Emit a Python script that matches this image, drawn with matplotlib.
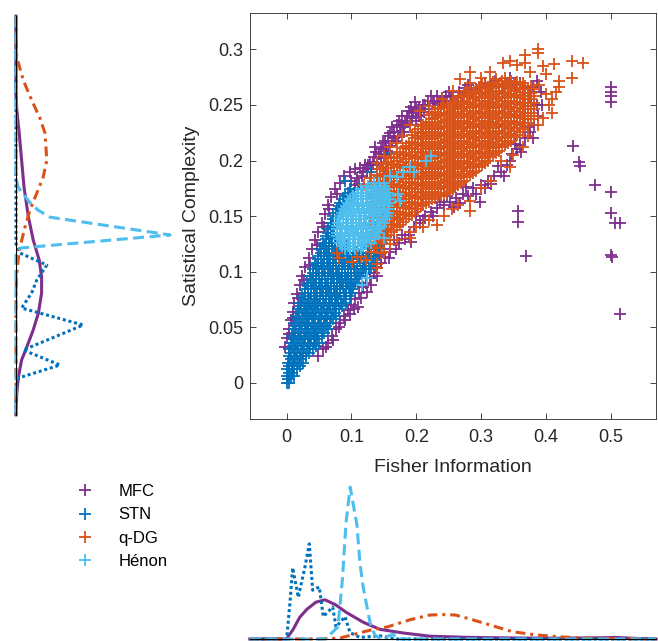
"""
Fisher information vs statistical complexity, with marginal densities.
Writes out.png (658 x 641 px).
"""
import matplotlib
matplotlib.use("Agg")
import matplotlib.pyplot as plt
import numpy as np

plt.rcParams["font.family"] = ["Liberation Sans", "DejaVu Sans"]

OUT_PATH = "out.png"
W_PX, H_PX = 658, 641

SERIES = ["MFC", "STN", "q-DG", "Hénon"]

# ---------------------------------------------------------------------------
# scatter data (Fisher information, statistical complexity)
# ---------------------------------------------------------------------------
# STN rows: (complexity, [fisher ...])
stn_rows = [
    (0.000, [0.000, 0.004]),
    (0.003, [0.002]),
    (0.006, [0.000, 0.006, 0.011]),
    (0.009, [0.003, 0.008]),
    (0.012, [0.001, 0.008, 0.016]),
    (0.015, [0.004, 0.012, 0.020]),
    (0.018, [0.002, 0.010, 0.018, 0.025]),
    (0.021, [0.006, 0.014, 0.022]),
    (0.024, [0.003, 0.011, 0.020, 0.030]),
    (0.027, [0.007, 0.016, 0.025, 0.034]),
    (0.030, [0.004, 0.013, 0.022, 0.031, 0.040]),
    (0.033, [0.009, 0.018, 0.027, 0.036, 0.045]),
    (0.036, [0.006, 0.015, 0.024, 0.033, 0.042, 0.050]),
    (0.039, [0.011, 0.020, 0.029, 0.038, 0.047]),
    (0.042, [0.008, 0.017, 0.026, 0.035, 0.044, 0.054]),
    (0.045, [0.013, 0.022, 0.031, 0.040, 0.049, 0.058]),
    (0.048, [0.010, 0.019, 0.028, 0.037, 0.046, 0.055, 0.063]),
    (0.051, [0.015, 0.024, 0.033, 0.042, 0.051, 0.060]),
    (0.054, [0.012, 0.021, 0.030, 0.039, 0.048, 0.057, 0.067]),
    (0.057, [0.017, 0.026, 0.035, 0.044, 0.053, 0.062, 0.071]),
    (0.060, [0.014, 0.023, 0.032, 0.041, 0.050, 0.059, 0.068, 0.076]),
    (0.063, [0.019, 0.028, 0.037, 0.046, 0.055, 0.064, 0.074]),
    (0.066, [0.017, 0.026, 0.035, 0.044, 0.053, 0.062, 0.071, 0.080]),
    (0.069, [0.022, 0.031, 0.040, 0.049, 0.058, 0.067, 0.076, 0.086]),
    (0.072, [0.020, 0.029, 0.038, 0.047, 0.056, 0.065, 0.074, 0.084, 0.092]),
    (0.075, [0.025, 0.034, 0.043, 0.052, 0.061, 0.070, 0.079, 0.089]),
    (0.078, [0.024, 0.033, 0.042, 0.051, 0.060, 0.069, 0.078, 0.088, 0.097]),
    (0.081, [0.029, 0.038, 0.047, 0.056, 0.065, 0.074, 0.083, 0.092, 0.099]),
    (0.084, [0.028, 0.037, 0.046, 0.055, 0.064, 0.073, 0.082, 0.091, 0.101]),
    (0.087, [0.033, 0.042, 0.051, 0.060, 0.069, 0.078, 0.087, 0.096, 0.103]),
    (0.090, [0.032, 0.041, 0.050, 0.059, 0.068, 0.077, 0.086, 0.095, 0.106]),
    (0.093, [0.037, 0.046, 0.055, 0.064, 0.073, 0.082, 0.091, 0.100, 0.109]),
    (0.096, [0.036, 0.045, 0.054, 0.063, 0.072, 0.081, 0.090, 0.100, 0.112]),
    (0.099, [0.041, 0.050, 0.059, 0.068, 0.077, 0.086, 0.095, 0.105, 0.115, 0.122]),
    (0.102, [0.040, 0.049, 0.058, 0.067, 0.076, 0.085, 0.094, 0.104, 0.117, 0.127]),
    (0.105, [0.045, 0.054, 0.063, 0.072, 0.081, 0.090, 0.099, 0.109, 0.119, 0.130]),
    (0.108, [0.044, 0.053, 0.062, 0.071, 0.080, 0.089, 0.098, 0.108, 0.120, 0.133]),
    (0.111, [0.049, 0.058, 0.067, 0.076, 0.085, 0.094, 0.103, 0.113, 0.123, 0.135]),
    (0.114, [0.048, 0.057, 0.066, 0.075, 0.084, 0.093, 0.102, 0.112, 0.125, 0.138]),
    (0.117, [0.053, 0.062, 0.071, 0.080, 0.089, 0.098, 0.107, 0.117, 0.128, 0.140]),
    (0.120, [0.052, 0.061, 0.070, 0.079, 0.088, 0.097, 0.106, 0.118, 0.130, 0.143]),
    (0.123, [0.057, 0.066, 0.075, 0.084, 0.093, 0.125, 0.138]),
    (0.126, [0.056, 0.065, 0.074, 0.083, 0.120, 0.134, 0.147]),
    (0.129, [0.061, 0.070, 0.079, 0.130, 0.144]),
    (0.132, [0.060, 0.069, 0.078, 0.140, 0.150]),
    (0.135, [0.064, 0.073, 0.082]),
    (0.138, [0.064, 0.072]),
    (0.141, [0.068, 0.077]),
    (0.144, [0.068, 0.076]),
    (0.147, [0.072, 0.081]),
    (0.150, [0.072, 0.080]),
    (0.153, [0.076, 0.085]),
    (0.156, [0.077, 0.086]),
    (0.159, [0.081, 0.090]),
    (0.162, [0.082, 0.092]),
    (0.165, [0.087, 0.096]),
    (0.168, [0.090, 0.100]),
    (0.171, [0.094, 0.104]),
    (0.174, [0.098, 0.110]),
]
stn_extra = [(0.090, 0.182), (0.098, 0.171), (0.130, 0.190), (0.139, 0.198),
             (0.150, 0.186), (0.159, 0.207)]

# Hénon rows: (complexity, [fisher ...])
henon_rows = [
    (0.120, [0.090, 0.098, 0.106, 0.114]),
    (0.123, [0.086, 0.094, 0.102, 0.110, 0.118]),
    (0.126, [0.082, 0.090, 0.098, 0.106, 0.114, 0.122, 0.130]),
    (0.129, [0.080, 0.088, 0.096, 0.104, 0.112, 0.120, 0.128, 0.134]),
    (0.132, [0.078, 0.086, 0.094, 0.102, 0.110, 0.118, 0.126, 0.136]),
    (0.135, [0.077, 0.082, 0.090, 0.098, 0.106, 0.114, 0.122, 0.130, 0.139]),
    (0.138, [0.077, 0.085, 0.093, 0.101, 0.109, 0.117, 0.125, 0.133, 0.142]),
    (0.141, [0.078, 0.083, 0.091, 0.099, 0.107, 0.115, 0.123, 0.131, 0.139, 0.146]),
    (0.144, [0.079, 0.087, 0.095, 0.103, 0.111, 0.119, 0.127, 0.135, 0.143, 0.150]),
    (0.147, [0.081, 0.087, 0.095, 0.103, 0.111, 0.119, 0.127, 0.135, 0.143, 0.152]),
    (0.150, [0.083, 0.091, 0.099, 0.107, 0.115, 0.123, 0.131, 0.139, 0.147, 0.155]),
    (0.153, [0.086, 0.095, 0.103, 0.111, 0.119, 0.127, 0.135, 0.143, 0.151, 0.157]),
    (0.156, [0.088, 0.096, 0.104, 0.112, 0.120, 0.128, 0.136, 0.144, 0.152, 0.158]),
    (0.159, [0.091, 0.100, 0.108, 0.116, 0.124, 0.132, 0.140, 0.148, 0.156]),
    (0.162, [0.094, 0.102, 0.110, 0.118, 0.126, 0.134, 0.142, 0.150, 0.158]),
    (0.165, [0.098, 0.106, 0.114, 0.122, 0.130, 0.138, 0.146, 0.154, 0.160]),
    (0.168, [0.102, 0.110, 0.118, 0.126, 0.134, 0.142, 0.150, 0.158]),
    (0.171, [0.108, 0.116, 0.124, 0.132, 0.140, 0.148, 0.156]),
    (0.174, [0.114, 0.122, 0.130, 0.138, 0.146, 0.154]),
    (0.177, [0.126, 0.134, 0.142, 0.150]),
    (0.180, [0.134, 0.142, 0.150]),
]
henon_extra = [(0.175, 0.164), (0.172, 0.170), (0.190, 0.194), (0.196, 0.190),
               (0.215, 0.200), (0.222, 0.204), (0.160, 0.186), (0.116, 0.088),
               (0.124, 0.094), (0.145, 0.140), (0.150, 0.130), (0.170, 0.185),
               (0.180, 0.190)]

# q-DG columns: (fisher, [complexity ...])
qdg_columns = [
    (0.1300, [0.118, 0.124, 0.130, 0.136, 0.142, 0.148, 0.154, 0.160, 0.166, 0.172, 0.178]),
    (0.1345, [0.121, 0.127, 0.133, 0.139, 0.145, 0.151, 0.157, 0.163, 0.169, 0.175, 0.181]),
    (0.1390, [0.121, 0.127, 0.133, 0.139, 0.145, 0.151, 0.157, 0.163, 0.169, 0.175, 0.181, 0.187]),
    (0.1435, [0.126, 0.132, 0.138, 0.144, 0.150, 0.156, 0.162, 0.168, 0.174, 0.180, 0.186, 0.192]),
    (0.1480, [0.128, 0.134, 0.140, 0.146, 0.152, 0.158, 0.164, 0.170, 0.176, 0.182, 0.188, 0.194]),
    (0.1525, [0.131, 0.137, 0.143, 0.149, 0.155, 0.161, 0.167, 0.173, 0.179, 0.185, 0.191, 0.197]),
    (0.1570, [0.133, 0.139, 0.145, 0.151, 0.157, 0.163, 0.169, 0.175, 0.181, 0.187, 0.193, 0.199]),
    (0.1615, [0.136, 0.142, 0.148, 0.154, 0.160, 0.166, 0.172, 0.178, 0.184, 0.190, 0.196, 0.202]),
    (0.1660, [0.137, 0.143, 0.149, 0.155, 0.161, 0.167, 0.173, 0.179, 0.185, 0.191, 0.197, 0.203]),
    (0.1705, [0.140, 0.146, 0.152, 0.158, 0.164, 0.170, 0.176, 0.182, 0.188, 0.194, 0.200, 0.206]),
    (0.1750, [0.142, 0.148, 0.154, 0.160, 0.166, 0.172, 0.178, 0.184, 0.190, 0.196, 0.202, 0.208]),
    (0.1795, [0.145, 0.151, 0.157, 0.163, 0.169, 0.175, 0.181, 0.187, 0.193, 0.199, 0.205, 0.211]),
    (0.1840, [0.147, 0.153, 0.159, 0.165, 0.171, 0.177, 0.183, 0.189, 0.195, 0.201, 0.207, 0.213]),
    (0.1885, [0.150, 0.156, 0.162, 0.168, 0.174, 0.180, 0.186, 0.192, 0.198, 0.204, 0.210, 0.216]),
    (0.1930, [0.151, 0.157, 0.163, 0.169, 0.175, 0.181, 0.187, 0.193, 0.199, 0.205, 0.211, 0.217, 0.223]),
    (0.1975, [0.154, 0.160, 0.166, 0.172, 0.178, 0.184, 0.190, 0.196, 0.202, 0.208, 0.214, 0.220, 0.226]),
    (0.2020, [0.156, 0.162, 0.168, 0.174, 0.180, 0.186, 0.192, 0.198, 0.204, 0.210, 0.216, 0.222, 0.228]),
    (0.2065, [0.159, 0.165, 0.171, 0.177, 0.183, 0.189, 0.195, 0.201, 0.207, 0.213, 0.219, 0.225, 0.231]),
    (0.2110, [0.160, 0.166, 0.172, 0.178, 0.184, 0.190, 0.196, 0.202, 0.208, 0.214, 0.220, 0.226, 0.232]),
    (0.2155, [0.162, 0.168, 0.174, 0.180, 0.186, 0.192, 0.198, 0.204, 0.210, 0.216, 0.222, 0.228, 0.234]),
    (0.2200, [0.163, 0.169, 0.175, 0.181, 0.187, 0.193, 0.199, 0.205, 0.211, 0.217, 0.223, 0.229, 0.235, 0.241]),
    (0.2245, [0.165, 0.171, 0.177, 0.183, 0.189, 0.195, 0.201, 0.207, 0.213, 0.219, 0.225, 0.231, 0.237, 0.243]),
    (0.2290, [0.166, 0.172, 0.178, 0.184, 0.190, 0.196, 0.202, 0.208, 0.214, 0.220, 0.226, 0.232, 0.238, 0.244]),
    (0.2335, [0.168, 0.174, 0.180, 0.186, 0.192, 0.198, 0.204, 0.210, 0.216, 0.222, 0.228, 0.234, 0.240, 0.246]),
    (0.2380, [0.169, 0.175, 0.181, 0.187, 0.193, 0.199, 0.205, 0.211, 0.217, 0.223, 0.229, 0.235, 0.241, 0.247]),
    (0.2425, [0.170, 0.176, 0.182, 0.188, 0.194, 0.200, 0.206, 0.212, 0.218, 0.224, 0.230, 0.236, 0.242, 0.248]),
    (0.2470, [0.171, 0.177, 0.183, 0.189, 0.195, 0.201, 0.207, 0.213, 0.219, 0.225, 0.231, 0.237, 0.243, 0.249]),
    (0.2515, [0.173, 0.179, 0.185, 0.191, 0.197, 0.203, 0.209, 0.215, 0.221, 0.227, 0.233, 0.239, 0.245, 0.251]),
    (0.2560, [0.174, 0.180, 0.186, 0.192, 0.198, 0.204, 0.210, 0.216, 0.222, 0.228, 0.234, 0.240, 0.246, 0.252]),
    (0.2605, [0.176, 0.182, 0.188, 0.194, 0.200, 0.206, 0.212, 0.218, 0.224, 0.230, 0.236, 0.242, 0.248, 0.254]),
    (0.2650, [0.178, 0.184, 0.190, 0.196, 0.202, 0.208, 0.214, 0.220, 0.226, 0.232, 0.238, 0.244, 0.250, 0.256]),
    (0.2695, [0.180, 0.186, 0.192, 0.198, 0.204, 0.210, 0.216, 0.222, 0.228, 0.234, 0.240, 0.246, 0.252, 0.258]),
    (0.2740, [0.182, 0.188, 0.194, 0.200, 0.206, 0.212, 0.218, 0.224, 0.230, 0.236, 0.242, 0.248, 0.254, 0.260]),
    (0.2785, [0.185, 0.191, 0.197, 0.203, 0.209, 0.215, 0.221, 0.227, 0.233, 0.239, 0.245, 0.251, 0.257, 0.263]),
    (0.2830, [0.187, 0.193, 0.199, 0.205, 0.211, 0.217, 0.223, 0.229, 0.235, 0.241, 0.247, 0.253, 0.259, 0.265]),
    (0.2875, [0.189, 0.195, 0.201, 0.207, 0.213, 0.219, 0.225, 0.231, 0.237, 0.243, 0.249, 0.255, 0.261]),
    (0.2920, [0.191, 0.197, 0.203, 0.209, 0.215, 0.221, 0.227, 0.233, 0.239, 0.245, 0.251, 0.257, 0.263]),
    (0.2965, [0.194, 0.200, 0.206, 0.212, 0.218, 0.224, 0.230, 0.236, 0.242, 0.248, 0.254, 0.260, 0.266]),
    (0.3010, [0.196, 0.202, 0.208, 0.214, 0.220, 0.226, 0.232, 0.238, 0.244, 0.250, 0.256, 0.262, 0.268]),
    (0.3055, [0.198, 0.204, 0.210, 0.216, 0.222, 0.228, 0.234, 0.240, 0.246, 0.252, 0.258, 0.264, 0.269]),
    (0.3100, [0.200, 0.206, 0.212, 0.218, 0.224, 0.230, 0.236, 0.242, 0.248, 0.254, 0.260, 0.266]),
    (0.3145, [0.203, 0.209, 0.215, 0.221, 0.227, 0.233, 0.239, 0.245, 0.251, 0.257, 0.263, 0.269]),
    (0.3190, [0.205, 0.211, 0.217, 0.223, 0.229, 0.235, 0.241, 0.247, 0.253, 0.259, 0.265, 0.271]),
    (0.3235, [0.207, 0.213, 0.219, 0.225, 0.231, 0.237, 0.243, 0.249, 0.255, 0.261, 0.267, 0.273]),
    (0.3280, [0.209, 0.215, 0.221, 0.227, 0.233, 0.239, 0.245, 0.251, 0.257, 0.263, 0.269]),
    (0.3325, [0.212, 0.218, 0.224, 0.230, 0.236, 0.242, 0.248, 0.254, 0.260, 0.266, 0.272]),
    (0.3370, [0.214, 0.220, 0.226, 0.232, 0.238, 0.244, 0.250, 0.256, 0.262, 0.268, 0.274]),
    (0.3415, [0.216, 0.222, 0.228, 0.234, 0.240, 0.246, 0.252, 0.258, 0.264, 0.270]),
    (0.3460, [0.218, 0.224, 0.230, 0.236, 0.242, 0.248, 0.254, 0.260, 0.266, 0.272]),
    (0.3505, [0.221, 0.227, 0.233, 0.239, 0.245, 0.251, 0.257, 0.263, 0.269]),
    (0.3550, [0.223, 0.229, 0.235, 0.241, 0.247, 0.253, 0.259, 0.265, 0.271]),
    (0.3595, [0.226, 0.232, 0.238, 0.244, 0.250, 0.256, 0.262, 0.268]),
    (0.3640, [0.228, 0.234, 0.240, 0.246, 0.252, 0.258, 0.264, 0.270]),
    (0.3685, [0.231, 0.237, 0.243, 0.249, 0.255, 0.261, 0.267]),
    (0.3730, [0.234, 0.240, 0.246, 0.252, 0.258, 0.264]),
    (0.3775, [0.237, 0.243, 0.249, 0.255, 0.261, 0.267]),
    (0.3820, [0.240, 0.246, 0.252, 0.258, 0.264]),
]
qdg_extra = [
    (0.077, 0.117), (0.080, 0.112), (0.101, 0.109), (0.108, 0.113), (0.115, 0.113),
    (0.122, 0.110), (0.140, 0.107), (0.140, 0.103), (0.146, 0.117), (0.150, 0.118),
    (0.160, 0.125), (0.170, 0.128), (0.190, 0.130), (0.190, 0.136), (0.200, 0.140),
    (0.210, 0.140), (0.220, 0.146), (0.232, 0.142), (0.242, 0.150), (0.255, 0.156),
    (0.265, 0.160), (0.283, 0.155), (0.283, 0.164), (0.300, 0.175), (0.315, 0.182),
    (0.330, 0.200), (0.345, 0.194), (0.350, 0.205), (0.365, 0.212), (0.372, 0.222),
    (0.388, 0.232), (0.395, 0.238), (0.410, 0.243), (0.405, 0.250),
    (0.120, 0.178), (0.128, 0.184), (0.140, 0.198), (0.150, 0.204), (0.160, 0.212),
    (0.170, 0.216), (0.178, 0.222), (0.190, 0.232), (0.206, 0.245), (0.220, 0.249),
    (0.240, 0.255), (0.257, 0.263), (0.267, 0.273), (0.283, 0.280), (0.283, 0.270),
    (0.300, 0.274), (0.314, 0.280), (0.334, 0.288), (0.345, 0.290), (0.355, 0.286),
    (0.368, 0.288), (0.368, 0.295), (0.388, 0.300), (0.388, 0.297), (0.395, 0.285),
    (0.400, 0.278), (0.412, 0.287), (0.420, 0.272), (0.420, 0.266), (0.410, 0.255),
    (0.415, 0.262), (0.440, 0.290), (0.458, 0.288), (0.440, 0.274), (0.375, 0.280),
    (0.390, 0.268), (0.400, 0.260),
]

mfc_points = [
    # left rim of the STN band
    (-0.002, 0.032), (0.001, 0.040), (0.003, 0.048), (0.006, 0.056), (0.009, 0.064),
    (0.012, 0.072), (0.016, 0.080), (0.020, 0.088), (0.024, 0.096), (0.029, 0.104),
    (0.034, 0.112), (0.039, 0.120), (0.044, 0.128), (0.049, 0.136), (0.054, 0.144),
    (0.059, 0.152), (0.064, 0.160), (0.069, 0.167), (0.075, 0.174), (0.082, 0.180),
    (0.089, 0.186), (0.097, 0.190), (0.105, 0.192), (0.113, 0.193), (0.121, 0.196),
    (0.004, 0.044), (0.010, 0.058), (0.018, 0.076), (0.027, 0.092), (0.036, 0.106),
    (0.047, 0.124), (0.057, 0.140), (0.066, 0.156), (0.078, 0.170),
    # upper rim
    (0.100, 0.182), (0.108, 0.184), (0.116, 0.186), (0.124, 0.190), (0.128, 0.198),
    (0.135, 0.203), (0.140, 0.196), (0.145, 0.210), (0.150, 0.205), (0.152, 0.218),
    (0.158, 0.213), (0.160, 0.225), (0.165, 0.220), (0.170, 0.232), (0.175, 0.226),
    (0.178, 0.240), (0.183, 0.234), (0.188, 0.245), (0.193, 0.238), (0.198, 0.253),
    (0.200, 0.246), (0.210, 0.250), (0.218, 0.254), (0.226, 0.252), (0.232, 0.258),
    (0.240, 0.256), (0.250, 0.262), (0.257, 0.258), (0.266, 0.262), (0.275, 0.265),
    (0.285, 0.262), (0.300, 0.266), (0.315, 0.268), (0.334, 0.266), (0.345, 0.274),
    (0.360, 0.270), (0.375, 0.258), (0.386, 0.272), (0.392, 0.262),
    (0.105, 0.178), (0.112, 0.179), (0.130, 0.192), (0.138, 0.208), (0.146, 0.202),
    (0.155, 0.209), (0.163, 0.230), (0.168, 0.218), (0.173, 0.236), (0.180, 0.230),
    (0.186, 0.240), (0.192, 0.248), (0.204, 0.240), (0.212, 0.244), (0.222, 0.258),
    (0.236, 0.252), (0.246, 0.258), (0.262, 0.254), (0.270, 0.258), (0.280, 0.268),
    (0.292, 0.264), (0.306, 0.270), (0.322, 0.272), (0.340, 0.270), (0.352, 0.268),
    (0.366, 0.265), (0.380, 0.266),
    (0.118, 0.190), (0.126, 0.196), (0.133, 0.199), (0.137, 0.212), (0.143, 0.206),
    (0.148, 0.216), (0.154, 0.212), (0.157, 0.222), (0.162, 0.218), (0.166, 0.226),
    (0.172, 0.222), (0.176, 0.232), (0.181, 0.226), (0.185, 0.236), (0.190, 0.232),
    (0.195, 0.243), (0.199, 0.236), (0.204, 0.248), (0.208, 0.241), (0.214, 0.250),
    (0.219, 0.246), (0.228, 0.254), (0.234, 0.250), (0.244, 0.254), (0.254, 0.258),
    # lower rim
    (0.048, 0.024), (0.056, 0.030), (0.064, 0.036), (0.070, 0.042), (0.076, 0.048),
    (0.082, 0.054), (0.088, 0.060), (0.094, 0.065), (0.100, 0.070), (0.106, 0.075),
    (0.110, 0.068), (0.112, 0.081), (0.118, 0.086), (0.122, 0.090), (0.128, 0.094),
    (0.134, 0.099), (0.138, 0.104), (0.146, 0.108), (0.152, 0.113), (0.160, 0.118),
    (0.168, 0.120), (0.174, 0.126), (0.182, 0.129), (0.188, 0.133), (0.196, 0.140),
    (0.205, 0.144), (0.214, 0.150), (0.222, 0.154), (0.232, 0.157), (0.242, 0.160),
    (0.252, 0.163), (0.262, 0.166), (0.272, 0.170), (0.280, 0.168), (0.288, 0.175),
    (0.298, 0.163), (0.300, 0.178), (0.310, 0.182), (0.320, 0.186), (0.330, 0.190),
    (0.340, 0.196), (0.348, 0.206), (0.355, 0.210), (0.360, 0.214), (0.368, 0.220),
    (0.376, 0.226), (0.382, 0.232), (0.388, 0.240), (0.394, 0.250),
    (0.060, 0.032), (0.072, 0.038), (0.080, 0.050), (0.090, 0.056), (0.098, 0.062),
    (0.104, 0.066), (0.114, 0.076), (0.124, 0.082), (0.130, 0.088), (0.140, 0.096),
    (0.142, 0.115), (0.150, 0.120), (0.158, 0.112), (0.166, 0.128), (0.178, 0.133),
    (0.192, 0.127), (0.200, 0.150), (0.210, 0.146), (0.226, 0.150), (0.236, 0.163),
    (0.248, 0.168), (0.258, 0.158), (0.268, 0.162), (0.276, 0.176), (0.292, 0.170),
    (0.306, 0.175), (0.316, 0.179), (0.326, 0.195), (0.336, 0.186), (0.344, 0.200),
    (0.352, 0.215), (0.362, 0.208), (0.372, 0.230), (0.380, 0.220), (0.386, 0.250),
    # outliers
    (0.357, 0.155), (0.357, 0.145), (0.369, 0.114), (0.442, 0.213), (0.451, 0.199),
    (0.453, 0.195), (0.476, 0.178), (0.500, 0.172), (0.500, 0.153), (0.506, 0.144),
    (0.515, 0.144), (0.500, 0.115), (0.502, 0.113), (0.515, 0.062), (0.500, 0.266),
    (0.500, 0.262), (0.500, 0.258), (0.501, 0.253),
]

# ---------------------------------------------------------------------------
# marginal densities
# ---------------------------------------------------------------------------
# bottom panel: (fisher, density)
mfc_fisher_pdf = [(-0.057, 0.0), (-0.005, 0.0), (0.000, 0.05), (0.010, 1.2), (0.020, 2.7),
                  (0.031, 3.7), (0.045, 4.6), (0.059, 4.9), (0.075, 4.3), (0.0925, 3.3),
                  (0.118, 2.1), (0.144, 1.2), (0.180, 0.75), (0.221, 0.35), (0.283, 0.2),
                  (0.360, 0.12), (0.420, 0.1), (0.484, 0.15), (0.507, 0.2), (0.545, 0.05),
                  (0.570, 0.0)]
stn_fisher_pdf = [(-0.057, 0.0), (-0.003, 0.0), (0.000, 0.0), (0.005, 4.5), (0.0093, 8.9),
                  (0.0179, 5.2), (0.0282, 9.0), (0.0349, 11.9), (0.0401, 6.1), (0.0503, 6.5),
                  (0.0565, 2.8), (0.071, 4.0), (0.0761, 1.5), (0.090, 2.8), (0.0977, 0.8),
                  (0.113, 0.2), (0.144, 0.4), (0.167, 0.0), (0.570, 0.0)]
qdg_fisher_pdf = [(-0.057, 0.0), (0.050, 0.0), (0.0823, 0.12), (0.1285, 1.1), (0.155, 1.5),
                  (0.190, 2.4), (0.221, 3.0), (0.2443, 3.05), (0.260, 3.0), (0.283, 2.5),
                  (0.3137, 1.75), (0.349, 0.9), (0.386, 0.5), (0.426, 0.25), (0.463, 0.12),
                  (0.514, 0.04), (0.570, 0.0)]
henon_fisher_pdf = [(-0.057, 0.0), (0.060, 0.0), (0.079, 1.5), (0.086, 7.4), (0.0915, 14.5),
                    (0.098, 19.0), (0.1085, 14.2), (0.113, 9.5), (0.118, 6.5), (0.1285, 2.1),
                    (0.136, 0.5), (0.144, 0.1), (0.155, 0.3), (0.164, 0.6), (0.173, 0.0),
                    (0.570, 0.0)]

# left panel: (complexity, density)
mfc_complexity_pdf = [(0.330, 0.0), (0.260, 0.0), (0.2454, 0.2), (0.2247, 0.8), (0.2004, 1.4),
                      (0.1762, 2.0), (0.1492, 3.1), (0.1285, 4.3), (0.1104, 5.8), (0.0952, 6.4),
                      (0.0807, 6.4), (0.0627, 5.6), (0.0474, 4.3), (0.0321, 2.7), (0.0204, 1.4),
                      (0.0051, 0.6), (-0.0093, 0.2), (-0.029, 0.0)]
stn_complexity_pdf = [(0.330, 0.0), (0.125, 0.0), (0.1167, 1.0), (0.1059, 7.7), (0.0924, 5.2),
                      (0.0807, 3.9), (0.0672, 1.4), (0.0519, 16.8), (0.0294, 1.8), (0.0159, 11.0),
                      (0.0042, 0.6), (-0.005, 0.0), (-0.029, 0.0)]
qdg_complexity_pdf = [(0.330, 0.0), (0.310, 0.0), (0.293, 0.2), (0.2725, 1.8), (0.2545, 3.9),
                      (0.238, 6.0), (0.2247, 7.25), (0.2004, 7.7), (0.185, 6.8), (0.1707, 5.2),
                      (0.1554, 3.5), (0.140, 2.25), (0.122, 1.0), (0.113, 0.6), (0.095, 0.1),
                      (0.070, 0.0), (-0.029, 0.0)]
henon_complexity_pdf = [(0.330, 0.0), (0.185, 0.0), (0.176, 0.5), (0.162, 3.5), (0.1554, 5.5),
                        (0.149, 8.5), (0.133, 38.5), (0.1212, 1.0), (0.1176, 0.0), (-0.029, 0.0)]

# ---------------------------------------------------------------------------
COLORS = {"MFC": "#7E2F8E", "STN": "#0072BD", "q-DG": "#D95319", "Hénon": "#4DBEEE"}
LINESTYLES = {
    "MFC": "-",
    "STN": (0, (1, 0.9)),
    "q-DG": (0, (3.2, 1.6, 1, 1.6)),
    "Hénon": (0, (3.6, 1.8)),
}
AX_COLOR = "#262626"


def _rows_to_xy(rows, extra):
    xs = [f for c, fs in rows for f in fs] + [p[0] for p in extra]
    ys = [c for c, fs in rows for _ in fs] + [p[1] for p in extra]
    return np.array(xs), np.array(ys)


def _cols_to_xy(cols, extra):
    xs = [f for f, cs in cols for _ in cs] + [p[0] for p in extra]
    ys = [c for f, cs in cols for c in cs] + [p[1] for p in extra]
    return np.array(xs), np.array(ys)


def _px_axes(fig, left, top, right, bottom):
    """Add axes from pixel box (origin top-left)."""
    return fig.add_axes([left / W_PX, 1 - bottom / H_PX,
                         (right - left) / W_PX, (bottom - top) / H_PX])


def _scatter_data():
    mfc = np.array(mfc_points)
    return {
        "MFC": (mfc[:, 0], mfc[:, 1]),
        "STN": _rows_to_xy(stn_rows, stn_extra),
        "q-DG": _cols_to_xy(qdg_columns, qdg_extra),
        "Hénon": _rows_to_xy(henon_rows, henon_extra),
    }


def main():
    fig = plt.figure(figsize=(W_PX / 100, H_PX / 100), dpi=100)
    fig.patch.set_facecolor("white")

    # --- main scatter ---
    ax = _px_axes(fig, 250, 13, 656, 419)
    handles = []
    for name, (xs, ys) in _scatter_data().items():
        (h,) = ax.plot(xs, ys, "+", linestyle="none", color=COLORS[name],
                       markersize=8.2, markeredgewidth=1.3, label=name)
        handles.append(h)

    ax.set_xlim(-0.0566, 0.5699)
    ax.set_ylim(-0.0327, 0.3328)
    ax.set_xticks([0, 0.1, 0.2, 0.3, 0.4, 0.5])
    ax.set_xticklabels(["0", "0.1", "0.2", "0.3", "0.4", "0.5"])
    ax.set_yticks([0, 0.05, 0.1, 0.15, 0.2, 0.25, 0.3])
    ax.set_yticklabels(["0", "0.05", "0.1", "0.15", "0.2", "0.25", "0.3"])
    ax.tick_params(direction="in", top=True, right=True, length=4, width=0.6,
                   colors=AX_COLOR, labelsize=13)
    ax.tick_params(axis="x", pad=7)
    ax.tick_params(axis="y", pad=5)
    for spine in ax.spines.values():
        spine.set_color(AX_COLOR)
        spine.set_linewidth(0.6)
    ax.set_xlabel("Fisher Information", fontsize=14, color=AX_COLOR, labelpad=9.5)
    ax.set_ylabel("Satistical Complexity", fontsize=14, color=AX_COLOR, labelpad=6)

    # --- left marginal: complexity densities (rotated) ---
    ax_l = _px_axes(fig, 16, 16, 176, 415)
    ax_l.set_facecolor("none")
    for name, pdf in zip(SERIES, [mfc_complexity_pdf, stn_complexity_pdf,
                                  qdg_complexity_pdf, henon_complexity_pdf]):
        arr = np.array(pdf)
        ax_l.plot(arr[:, 1], arr[:, 0], color=COLORS[name], lw=2.2,
                  linestyle=LINESTYLES[name], clip_on=False)
    ax_l.axvline(0, color="black", lw=0.8, zorder=5, clip_on=False)
    ax_l.set_xlim(0, 40)
    ax_l.set_ylim(-0.0291, 0.3301)
    ax_l.axis("off")

    # --- bottom marginal: fisher densities ---
    ax_b = _px_axes(fig, 250, 479, 656, 639)
    ax_b.set_facecolor("none")
    for name, pdf in zip(SERIES, [mfc_fisher_pdf, stn_fisher_pdf,
                                  qdg_fisher_pdf, henon_fisher_pdf]):
        arr = np.array(pdf)
        ax_b.plot(arr[:, 0], arr[:, 1], color=COLORS[name], lw=2.2,
                  linestyle=LINESTYLES[name], clip_on=False)
    ax_b.axhline(0, color="black", lw=0.8, zorder=5, clip_on=False)
    ax_b.set_xlim(-0.0566, 0.5699)
    ax_b.set_ylim(0, 20)
    ax_b.axis("off")

    # --- legend ---
    fig.legend(handles, SERIES, loc="upper left",
               bbox_to_anchor=(77 / W_PX, 1 - 484 / H_PX),
               frameon=False, fontsize=12, handlelength=1.0, handletextpad=1.5,
               labelspacing=0.5, borderpad=0, borderaxespad=0)

    fig.savefig(OUT_PATH, dpi=100, facecolor="white")
    plt.close(fig)


if __name__ == "__main__":
    main()
